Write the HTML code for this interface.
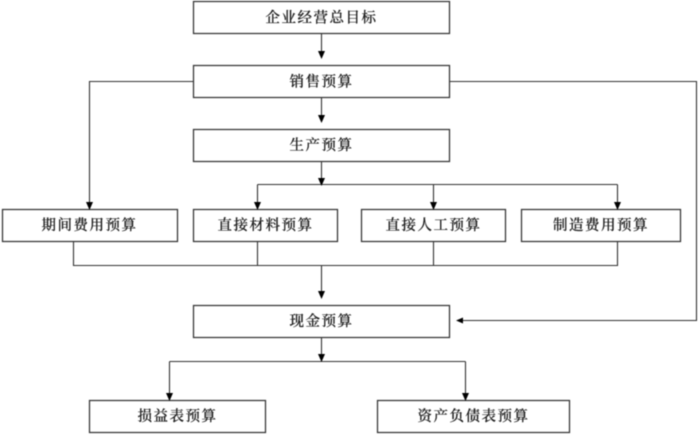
<!DOCTYPE html>
<html>
<head>
<meta charset="utf-8">
<style>
html,body{margin:0;padding:0;background:#fff;width:700px;height:436px;overflow:hidden}
svg{display:block;filter:blur(0.4px)}
text{font-family:"Liberation Serif","Noto Serif CJK SC",serif;font-size:14.5px;fill:#1a1a1a;stroke:#1a1a1a;stroke-width:0.2px;text-anchor:middle;letter-spacing:1.5px;font-weight:500}
rect{fill:none;stroke:#333;stroke-width:1.25}
path.l{fill:none;stroke:#333;stroke-width:1.1}
path.a{fill:#000;stroke:none}
</style>
</head>
<body>
<svg width="700" height="436" viewBox="0 0 700 436" xmlns="http://www.w3.org/2000/svg">
<rect x="193.5" y="1.5" width="256" height="32"/>
<rect x="193.5" y="65.5" width="256" height="32"/>
<rect x="193.5" y="129.5" width="256" height="32"/>
<rect x="2.5" y="209.5" width="175" height="32"/>
<rect x="193.5" y="209.5" width="144" height="32"/>
<rect x="361.5" y="209.5" width="144" height="32"/>
<rect x="521.5" y="209.5" width="159" height="32"/>
<rect x="193.5" y="305.5" width="256" height="32"/>
<rect x="89.5" y="400.5" width="176" height="32"/>
<rect x="377.5" y="400.5" width="192" height="32"/>

<path class="l" d="M321.5 33V52M321.5 97V116M321.5 161V184M257.5 184.500H617.500M257.500 184.500V203M433.500 184.500V203M617.500 184.500V203
M193 81.500H89.500V203M449 81.500H696.500V320.500H462
M73.500 241V265.500H617.500V241M257.500 241V265.500M433.500 241V265.500M321.500 265.500V292
M321.500 337V361M169.500 361.500H465.500M169.500 361.500V394M465.500 361.500V394"/>

<path class="a" d="M318 51L325 51L321.500 59ZM318 115L325 115L321.500 123ZM318 178L325 178L321.500 186Z
M254 202L261 202L257.500 210ZM430 202L437 202L433.500 210ZM614 202L621 202L617.500 210ZM86 202L93 202L89.500 210Z
M318 291L325 291L321.500 299ZM318 354L325 354L321.500 362ZM166 393L173 393L169.500 401ZM462 393L469 393L465.500 401Z
M456 320.500L463 317.500L463 323.500Z"/>

<text x="321.500" y="22.500">企业经营总目标</text>
<text x="321.500" y="86.500">销售预算</text>
<text x="321.500" y="150">生产预算</text>
<text x="89.500" y="230">期间费用预算</text>
<text x="265.500" y="230">直接材料预算</text>
<text x="433.500" y="230">直接人工预算</text>
<text x="601" y="230">制造费用预算</text>
<text x="321.500" y="326">现金预算</text>
<text x="177.500" y="421">损益表预算</text>
<text x="473.500" y="421">资产负债表预算</text>
</svg>
</body>
</html>
